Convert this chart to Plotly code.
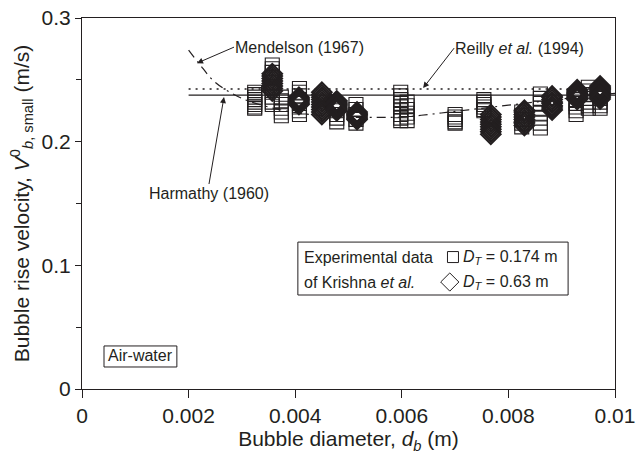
import plotly.graph_objects as go

# Experimental data of Krishna et al. -- D_T = 0.174 m column (squares)
sq_diam = [0.00324, 0.00357, 0.00374, 0.00408, 0.00478, 0.00514, 0.00598, 0.00610,
           0.00700, 0.00754, 0.00825, 0.00860, 0.00927, 0.00950, 0.00972]
sq_vel = [
    [0.240, 0.238, 0.236, 0.234, 0.232, 0.230, 0.228, 0.227],
    [0.262, 0.259, 0.256, 0.252, 0.248, 0.244, 0.240, 0.236, 0.232, 0.230],
    [0.236, 0.233, 0.230, 0.227, 0.224, 0.221],
    [0.243, 0.240, 0.237, 0.234, 0.231, 0.228, 0.225, 0.222],
    [0.228, 0.225, 0.222, 0.219, 0.216],
    [0.230, 0.226, 0.222, 0.218, 0.215],
    [0.240, 0.237, 0.234, 0.231, 0.228, 0.225, 0.222, 0.219, 0.217],
    [0.232, 0.229, 0.226, 0.223, 0.220, 0.217],
    [0.222, 0.220, 0.218, 0.216, 0.215],
    [0.234, 0.232, 0.230, 0.228, 0.226, 0.225],
    [0.224, 0.221, 0.218, 0.215, 0.212],
    [0.2385, 0.235, 0.231, 0.227, 0.223, 0.219, 0.215, 0.211],
    [0.234, 0.231, 0.228, 0.225, 0.222],
    [0.244, 0.241, 0.238, 0.235, 0.232, 0.229, 0.227],
    [0.238, 0.235, 0.232, 0.229, 0.227],
]

# D_T = 0.63 m column (diamonds)
dm_diam = [0.00357, 0.00407, 0.00450, 0.00478, 0.00516, 0.00767, 0.00830, 0.00882,
           0.00929, 0.00972]
dm_vel = [
    [0.255, 0.253, 0.251, 0.249, 0.247, 0.245, 0.243, 0.241],
    [0.236, 0.235, 0.234, 0.233, 0.232, 0.231, 0.230],
    [0.240, 0.238, 0.236, 0.234, 0.232, 0.230, 0.228, 0.226, 0.224, 0.222],
    [0.233, 0.232, 0.231, 0.230, 0.229, 0.228, 0.227, 0.226, 0.225],
    [0.224, 0.223, 0.222, 0.221, 0.220, 0.219, 0.218],
    [0.222, 0.220, 0.218, 0.216, 0.214, 0.212, 0.210, 0.208, 0.206],
    [0.2255, 0.224, 0.222, 0.220, 0.218, 0.216, 0.215, 0.213],
    [0.237, 0.236, 0.234, 0.232, 0.231, 0.229, 0.228, 0.2265, 0.2255],
    [0.242, 0.241, 0.240, 0.239, 0.238, 0.237, 0.236, 0.235, 0.234],
    [0.245, 0.244, 0.243, 0.242, 0.241, 0.240, 0.239, 0.238, 0.237, 0.236, 0.2345],
]

# Correlations
harmathy_d = [0.002, 0.010]
harmathy_v = [0.2377, 0.2377]
reilly_d = [0.002, 0.010]
reilly_v = [0.2425, 0.2425]
mendelson_d = [0.0020, 0.0022, 0.0025, 0.0030, 0.0035, 0.0040, 0.0045, 0.0050, 0.0055,
               0.0060, 0.0065, 0.0070, 0.0075, 0.0080, 0.0085, 0.0090, 0.0095, 0.0100]
mendelson_v = [0.274, 0.263, 0.248, 0.235, 0.228, 0.2235, 0.221, 0.2198, 0.2197,
               0.2199, 0.222, 0.2245, 0.227, 0.2295, 0.232, 0.2345, 0.237, 0.239]

xticks = [0, 0.002, 0.004, 0.006, 0.008, 0.01]
xtick_text = ["0", "0.002", "0.004", "0.006", "0.008", "0.01"]
yticks = [0, 0.1, 0.2, 0.3]
ytick_text = ["0", "0.1", "0.2", "0.3"]

INK = "#231f20"
FONT = "Liberation Sans, Arial, sans-serif"


def flatten(diams, vels):
    xs, ys = [], []
    for d, vs in zip(diams, vels):
        xs += [d] * len(vs)
        ys += vs
    return xs, ys


fig = go.Figure()

fig.add_trace(go.Scatter(x=harmathy_d, y=harmathy_v, mode="lines",
                         line=dict(color=INK, width=1.2), hoverinfo="skip"))
fig.add_trace(go.Scatter(x=reilly_d, y=reilly_v, mode="lines",
                         line=dict(color=INK, width=1.5, dash="2px,5px"), hoverinfo="skip"))
fig.add_trace(go.Scatter(x=mendelson_d, y=mendelson_v, mode="lines",
                         line=dict(color=INK, width=1.2, dash="9px,5px,2px,5px", shape="spline"),
                         hoverinfo="skip"))

sx, sy = flatten(sq_diam, sq_vel)
fig.add_trace(go.Scatter(x=sx, y=sy, mode="markers",
                         marker=dict(symbol="square-open", size=14, color=INK,
                                     line=dict(width=1.1, color=INK))))
dx, dy = flatten(dm_diam, dm_vel)
fig.add_trace(go.Scatter(x=dx, y=dy, mode="markers",
                         marker=dict(symbol="diamond-open", size=15, color=INK,
                                     line=dict(width=2.1, color=INK))))

# Key symbols inside the boxed legend
fig.add_trace(go.Scatter(x=[0.00696], y=[0.1067], mode="markers",
                         marker=dict(symbol="square-open", size=11, color=INK,
                                     line=dict(width=1, color=INK))))
fig.add_trace(go.Scatter(x=[0.0069], y=[0.0865], mode="markers",
                         marker=dict(symbol="diamond-open", size=14, color=INK,
                                     line=dict(width=1, color=INK))))

shapes = [
    dict(type="rect", xref="x", yref="y", x0=0.00405, x1=0.00912, y0=0.076, y1=0.1188,
         line=dict(color=INK, width=1)),
    dict(type="rect", xref="x", yref="y", x0=0.000413, x1=0.00178, y0=0.0178, y1=0.0348,
         line=dict(color=INK, width=1)),
]

txt = dict(family=FONT, size=16, color=INK)
arrow = dict(showarrow=True, arrowhead=2, arrowsize=1.2, arrowwidth=1, arrowcolor=INK,
             borderpad=0, font=txt)
annotations = [
    dict(x=0.002158, y=0.2635, ax=37, ay=-16, text="Mendelson (1967)",
         xanchor="left", yanchor="middle", **arrow),
    dict(x=0.0064, y=0.2433, ax=31, ay=-40, text="Reilly <i>et al.</i> (1994)",
         xanchor="left", yanchor="middle", **arrow),
    dict(x=0.002664, y=0.2361, ax=-15, ay=87, text="Harmathy (1960)",
         xanchor="center", yanchor="top", **arrow),
    dict(x=0.00413, y=0.1067, text="Experimental data", showarrow=False, xanchor="left",
         font=txt),
    dict(x=0.00413, y=0.0865, text="of Krishna <i>et al.</i>", showarrow=False,
         xanchor="left", font=txt),
    dict(x=0.00711, y=0.1067, text="<i>D</i><sub><i>T</i></sub> = 0.174 m", showarrow=False,
         xanchor="left", font=txt),
    dict(x=0.00711, y=0.0865, text="<i>D</i><sub><i>T</i></sub> = 0.63 m", showarrow=False,
         xanchor="left", font=txt),
    dict(x=0.00109, y=0.0267, text="Air-water", showarrow=False, font=txt),
]

axis_common = dict(showline=True, linecolor=INK, linewidth=1.2, mirror=True,
                   ticks="outside", tickcolor=INK, tickwidth=1.2, showgrid=False,
                   zeroline=False, automargin=False,
                   tickfont=dict(family=FONT, size=21, color=INK))

fig.update_layout(
    width=644, height=455,
    margin=dict(l=82, r=29, t=18, b=66),
    paper_bgcolor="white", plot_bgcolor="white",
    showlegend=False,
    shapes=shapes,
    annotations=annotations,
    xaxis=dict(range=[0, 0.01], tickvals=xticks, ticktext=xtick_text, ticklen=8,
               title=dict(text="Bubble diameter, <i>d</i><sub><i>b</i></sub> (m)",
                          font=dict(family=FONT, size=21, color=INK), standoff=4),
               **axis_common),
    yaxis=dict(range=[0, 0.3], tickvals=yticks, ticktext=ytick_text, ticklen=6,
               minor=dict(tickvals=[0.05, 0.15, 0.25], ticks="outside", ticklen=5,
                          tickcolor=INK, tickwidth=1.2),
               title=dict(text="Bubble rise velocity, <i>V</i><sup>0</sup><sub><i>b</i>, small</sub> (m/s)",
                          font=dict(family=FONT, size=21, color=INK), standoff=6),
               **axis_common),
)

fig.write_html("out.html")
